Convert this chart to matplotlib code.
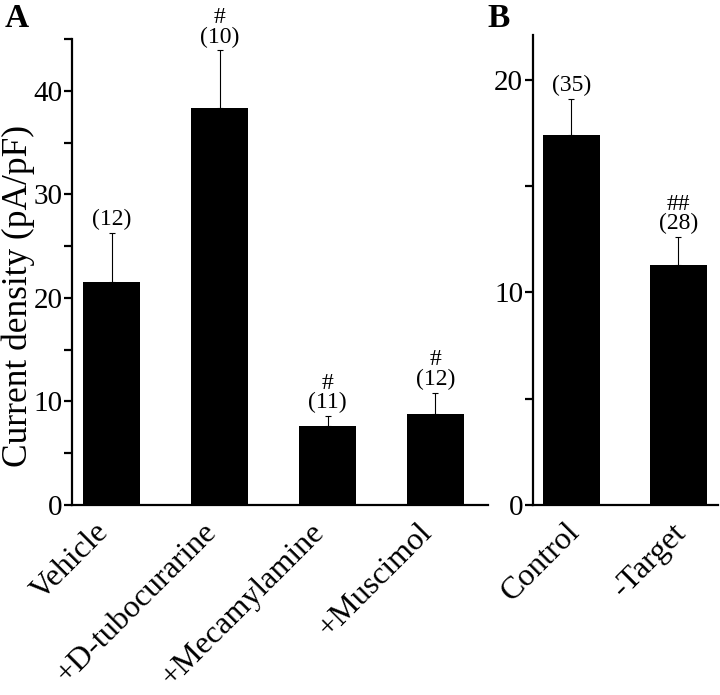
import numpy as np
import matplotlib
matplotlib.use('Agg')
import matplotlib.pyplot as plt
import matplotlib as mpl

# ---- data ----
a_labels = ['Vehicle', '+D-tubocurarine', '+Mecamylamine', '+Muscimol']
a_means = [21.5, 38.3, 7.6, 8.75]
a_sem = [4.8, 5.6, 1.0, 2.1]
a_notes = ['(12)', '#\n(10)', '#\n(11)', '#\n(12)']

b_labels = ['Control', '-Target']
b_means = [17.4, 11.3]
b_sem = [1.7, 1.3]
b_notes = ['(35)', '##\n(28)']

mpl.rc('font', family=['Liberation Serif', 'DejaVu Serif'])
mpl.rc('axes', linewidth=1.6)

fig = plt.figure(figsize=(7.2, 6.95), dpi=100)
axA = fig.add_axes([0.100, 0.2734, 0.578, 0.6705])
axB = fig.add_axes([0.740, 0.2734, 0.257, 0.676])


def draw_panel(ax, labels, means, sem, notes, ylim, ystep, xlim, lab_shift):
    x = np.arange(len(labels))
    ax.bar(x, means, width=0.53, color='black', zorder=2)
    ax.errorbar(x, means, yerr=[np.zeros(len(sem)), sem], fmt='none',
                ecolor='black', elinewidth=0.8, capsize=2.5, capthick=0.8,
                zorder=1)
    for xi, m, s, t in zip(x, means, sem, notes):
        ax.annotate(t, (xi, m + s), xytext=(0, 2), textcoords='offset points',
                    ha='center', va='bottom', fontsize=17, linespacing=0.9)
    ax.set_xlim(xlim)
    ax.set_ylim(ylim)
    ticks = np.arange(0, ylim[1] + 0.01, ystep / 2)
    ax.set_yticks(ticks)
    ax.set_yticklabels([('%d' % t if t % ystep == 0 else '') for t in ticks])
    # x ticks are invisible, so shift them to place the rotated labels
    ax.set_xticks(x + lab_shift)
    ax.set_xticklabels(labels, rotation=45, ha='right', rotation_mode='anchor',
                       fontsize=23)
    ax.tick_params(axis='x', length=0, pad=9)
    ax.tick_params(axis='y', length=6, width=1.6, labelsize=21, pad=1)
    for side in ['top', 'right']:
        ax.spines[side].set_visible(False)


draw_panel(axA, a_labels, a_means, a_sem, a_notes, (0, 45), 10, (-0.37, 3.49), -0.17)
draw_panel(axB, b_labels, b_means, b_sem, b_notes, (0, 22.1), 10, (-0.36, 1.37), -0.06)

axA.set_ylabel('Current density (pA/pF)', fontsize=25.5)
axA.yaxis.set_label_coords(-0.088, 0.449)

fig.text(0.006, 0.995, 'A', fontsize=24, fontweight='bold', va='top', ha='left')
fig.text(0.677, 0.995, 'B', fontsize=24, fontweight='bold', va='top', ha='left')

fig.savefig('out.png', dpi=100, facecolor='white')
